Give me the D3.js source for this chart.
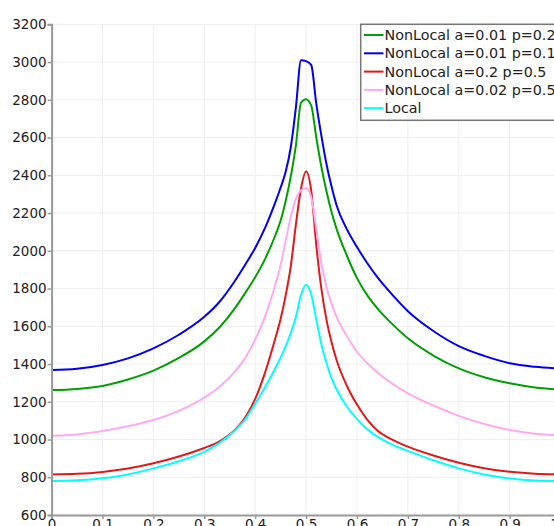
<!DOCTYPE html>
<html>
<head>
<meta charset="utf-8">
<script src="https://cdn.jsdelivr.net/npm/d3@7/dist/d3.min.js"></script>
<style>
  html, body { margin: 0; padding: 0; background: #fff; overflow: hidden; }
  svg { display: block; }
  text { font-family: "DejaVu Sans", sans-serif; fill: #222; }
</style>
</head>
<body>
<svg id="chart" width="554" height="526"></svg>
<script>
// ---- data ----
const xs = [0, 0.05, 0.1, 0.15, 0.2, 0.25, 0.3, 0.33, 0.36, 0.38, 0.4, 0.42, 0.44, 0.45, 0.46, 0.47, 0.48, 0.49, 0.5,
            0.51, 0.52, 0.53, 0.54, 0.55, 0.56, 0.58, 0.6, 0.62, 0.64, 0.67, 0.7, 0.75, 0.8, 0.85, 0.9, 0.95, 1.0];

const nonLocalA001P02 = [1262, 1268, 1284, 1318, 1365, 1432, 1520, 1595, 1695, 1775, 1860, 1960, 2085, 2160, 2265, 2395, 2560, 2785, 2803,
                         2770, 2600, 2445, 2315, 2205, 2115, 1975, 1855, 1765, 1695, 1610, 1536, 1445, 1377, 1330, 1298, 1276, 1264];
const nonLocalA001P01 = [1368, 1375, 1395, 1430, 1483, 1555, 1650, 1730, 1840, 1925, 2015, 2125, 2260, 2335, 2420, 2550, 2760, 3010, 3005,
                         2985, 2780, 2610, 2460, 2340, 2240, 2115, 2020, 1935, 1860, 1765, 1680, 1575, 1495, 1443, 1404, 1385, 1375];
const nonLocalA02P05  = [815, 818, 828, 846, 874, 910, 955, 990, 1050, 1115, 1215, 1360, 1540, 1640, 1765, 1920, 2140, 2330, 2420,
                         2320, 2030, 1800, 1635, 1515, 1420, 1285, 1185, 1105, 1048, 998, 962, 915, 877, 848, 829, 819, 816];
const nonLocalA002P05 = [1020, 1027, 1045, 1070, 1103, 1152, 1222, 1280, 1360, 1430, 1530, 1655, 1825, 1925, 2055, 2180, 2275, 2320, 2331,
                         2285, 2115, 1935, 1810, 1720, 1650, 1548, 1465, 1405, 1355, 1295, 1245, 1180, 1125, 1082, 1050, 1030, 1022];
const local           = [780, 784, 795, 815, 847, 885, 935, 982, 1048, 1105, 1190, 1280, 1380, 1435, 1495, 1565, 1650, 1765, 1820,
                         1770, 1635, 1505, 1405, 1325, 1265, 1175, 1108, 1055, 1015, 972, 940, 890, 847, 815, 794, 783, 780];

const seriesNames  = ["NonLocal a=0.01 p=0.2", "NonLocal a=0.01 p=0.1", "NonLocal a=0.2 p=0.5", "NonLocal a=0.02 p=0.5", "Local"];
const seriesValues = [nonLocalA001P02, nonLocalA001P01, nonLocalA02P05, nonLocalA002P05, local];
const seriesColors = ["#00a000", "#0000f0", "#e01a1a", "#ffaaf0", "#00ffff"];

const xTicks = [0, 0.1, 0.2, 0.3, 0.4, 0.5, 0.6, 0.7, 0.8, 0.9, 1.0];
const yTicks = [600, 800, 1000, 1200, 1400, 1600, 1800, 2000, 2200, 2400, 2600, 2800, 3000, 3200];

// ---- layout ----
const svg = d3.select("#chart");
const x = d3.scaleLinear().domain([0, 1]).range([51.6, 560.6]);
const y = d3.scaleLinear().domain([600, 3200]).range([515, 24.3]);

// grid
const grid = svg.append("g");
grid.selectAll("line.gx").data(xTicks.slice(1)).join("line")
  .attr("x1", d => x(d)).attr("x2", d => x(d))
  .attr("y1", y(600)).attr("y2", y(3200))
  .attr("stroke", "#eeeeee").attr("stroke-width", 1);
grid.selectAll("line.gy").data(yTicks.slice(1)).join("line")
  .attr("x1", x(0)).attr("x2", x(1))
  .attr("y1", d => y(d)).attr("y2", d => y(d))
  .attr("stroke", "#eeeeee").attr("stroke-width", 1);

// lines
const line = d3.line().x((d, i) => x(xs[i])).y(d => y(d)).curve(d3.curveMonotoneX);
svg.append("g").selectAll("path").data(seriesValues).join("path")
  .attr("d", d => line(d))
  .attr("fill", "none")
  .attr("stroke", (d, i) => seriesColors[i])
  .attr("stroke-width", 2)
  .attr("stroke-linejoin", "round");

// axes
const yAxis = d3.axisLeft(y).tickValues(yTicks).tickFormat(d3.format("d")).tickSize(4).tickPadding(1);
const gy = svg.append("g").attr("transform", `translate(${x(0)},0)`).call(yAxis);
gy.select(".domain").attr("stroke", "#999").attr("stroke-width", 2);
gy.selectAll(".tick line").attr("stroke", "#999").attr("stroke-width", 1.5);
gy.selectAll(".tick text").style("font-size", "13.5px").attr("fill", "#222");

const xAxis = d3.axisBottom(x).tickValues(xTicks).tickFormat(d => d === 0 ? "0" : d3.format(".1f")(d)).tickSize(4).tickPadding(0);
const gx = svg.append("g").attr("transform", `translate(0,${y(600)})`).call(xAxis);
gx.select(".domain").attr("stroke", "#999").attr("stroke-width", 2);
gx.selectAll(".tick line").attr("stroke", "#999").attr("stroke-width", 1.5);
gx.selectAll(".tick text").style("font-size", "13.5px").attr("fill", "#222");

// legend
const lg = svg.append("g");
lg.append("rect").attr("x", 360.7).attr("y", 24.3).attr("width", 240).attr("height", 96)
  .attr("fill", "#fff").attr("stroke", "#777").attr("stroke-width", 1.5);
const rows = lg.selectAll("g.row").data(seriesNames).join("g")
  .attr("transform", (d, i) => `translate(0,${35 + i * 18.3})`);
rows.append("line").attr("x1", 364).attr("x2", 383.5).attr("y1", 0).attr("y2", 0)
  .attr("stroke", (d, i) => seriesColors[i]).attr("stroke-width", 2);
rows.append("text").attr("x", 384.5).attr("y", 0).attr("dy", "0.36em")
  .style("font-size", "14.3px").text(d => d);
</script>
</body>
</html>
